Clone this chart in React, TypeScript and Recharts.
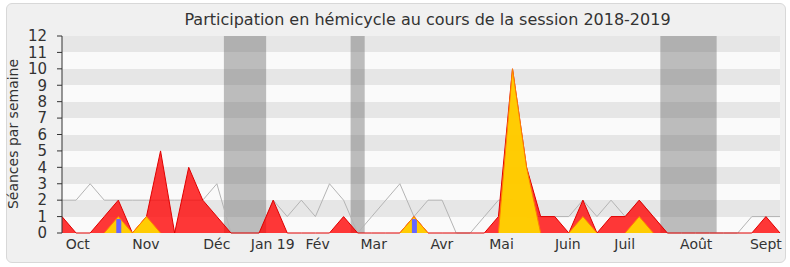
import React from 'react';
import { ComposedChart, Area, Bar, Line, XAxis, YAxis, CartesianGrid, ReferenceArea } from 'recharts';

// one point per week, session 2018-2019
const weekIndex = [
  0, 1, 2, 3, 4, 5, 6, 7, 8, 9, 10, 11, 12, 13, 14, 15, 16, 17, 18, 19, 20, 21, 22, 23, 24, 25,
  26, 27, 28, 29, 30, 31, 32, 33, 34, 35, 36, 37, 38, 39, 40, 41, 42, 43, 44, 45, 46, 47, 48, 49, 50, 51,
];
const totalSeances = [
  2, 2, 3, 2, 2, 2, 2, 2, 2, 2, 2, 3, 0, 0, 0, 2, 1, 2, 1, 3, 2, 0, 1, 2, 3, 1,
  2, 2, 0, 0, 1, 2, 2, 1, 1, 1, 1, 2, 1, 2, 1, 2, 1, 0, 0, 0, 0, 0, 0, 1, 1, 1,
];
const presences = [
  1, 0, 0, 1, 2, 0, 1, 5, 0, 4, 2, 1, 0, 0, 0, 2, 0, 0, 0, 0, 1, 0, 0, 0, 0, 1,
  0, 0, 0, 0, 0, 1, 10, 4, 1, 1, 0, 2, 0, 1, 1, 2, 1, 0, 0, 0, 0, 0, 0, 0, 1, 0,
];
const interventions = [
  0, 0, 0, 0, 1, 0, 1, 0, 0, 0, 0, 0, 0, 0, 0, 0, 0, 0, 0, 0, 0, 0, 0, 0, 0, 1,
  0, 0, 0, 0, 0, 0, 10, 4, 0, 0, 0, 1, 0, 0, 0, 1, 0, 0, 0, 0, 0, 0, 0, 0, 0, 0,
];
const questions = [
  null, null, null, null, 0.85, null, null, null, null, null, null, null, null, null, null, null, null, null, null, null, null, null, null, null, null, 0.85,
  null, null, null, null, null, null, null, null, null, null, null, null, null, null, null, null, null, null, null, null, null, null, null, null, null, null,
];

const monthPositions = [1.12, 5.96, 11.0, 14.97, 18.16, 22.14, 26.98, 31.22, 35.93, 39.97, 45.05, 50.0];
const monthLabels = ['Oct', 'Nov', 'Déc', 'Jan 19', 'Fév', 'Mar', 'Avr', 'Mai', 'Juin', 'Juil', 'Août', 'Sept'];

const vacances = [
  [11.5, 14.5],
  [20.5, 21.5],
  [42.5, 46.5],
];

const yTicks = [0, 1, 2, 3, 4, 5, 6, 7, 8, 9, 10, 11, 12];

// outline of the yellow area only around non-zero weeks (keeps the baseline red)
const interventionsOutline = interventions.map((v, i) =>
  v > 0 || interventions[i - 1] > 0 || interventions[i + 1] > 0 ? v : null,
);

const data = weekIndex.map((w, i) => ({
  week: w,
  total: totalSeances[i],
  presence: presences[i],
  intervention: interventions[i],
  interventionEdge: interventionsOutline[i],
  question: questions[i],
}));

const FONT = 'DejaVu Sans';

export default function App() {
  return (
    <div style={{ position: 'absolute', left: 0, top: 0, width: 790, height: 267, background: '#fff', fontFamily: FONT }}>
      <div
        style={{
          position: 'absolute',
          left: 6,
          top: 3,
          width: 778,
          height: 258,
          border: '1px solid #d8d8d8',
          borderRadius: 6,
          background: '#f0f0f0',
        }}
      />
      <div
        style={{
          position: 'absolute',
          left: 0,
          top: 10,
          width: 855,
          textAlign: 'center',
          fontSize: 16,
          color: '#333',
          whiteSpace: 'nowrap',
        }}
      >
        Participation en hémicycle au cours de la session 2018-2019
      </div>
      <div
        style={{
          position: 'absolute',
          left: 12.5,
          top: 134,
          transform: 'translate(-50%, -50%) rotate(-90deg)',
          fontSize: 14,
          color: '#333',
          whiteSpace: 'nowrap',
        }}
      >
        Séances par semaine
      </div>
      <ComposedChart
        style={{ position: 'absolute', left: 0, top: 0 }}
        width={790}
        height={267}
        data={data}
        margin={{ top: 36, right: 10, bottom: 0, left: 0 }}
      >
        <CartesianGrid vertical={false} stroke="none" fill="none" horizontalFill={['#e6e6e6', '#fafafa']} />
        {vacances.map(([a, b], i) => (
          <ReferenceArea key={i} x1={a} x2={b} y1={0} y2={12} fill="#666666" fillOpacity={0.42} stroke="none" />
        ))}
        <XAxis
          dataKey="week"
          type="number"
          domain={[0, 51]}
          ticks={weekIndex}
          interval={0}
          height={0}
          tick={false}
          tickSize={5}
          stroke="#333"
        />
        <XAxis
          xAxisId="labels"
          type="number"
          domain={[0, 51]}
          ticks={monthPositions}
          interval={0}
          height={34}
          axisLine={false}
          tickLine={false}
          tickSize={0}
          tickMargin={6}
          tickFormatter={(v) => monthLabels[monthPositions.indexOf(v)]}
          tick={{ fill: '#333', fontSize: 14, fontFamily: FONT }}
        />
        <XAxis
          xAxisId="top"
          orientation="top"
          type="number"
          domain={[0, 51]}
          ticks={weekIndex}
          interval={0}
          height={0}
          axisLine={false}
          tick={false}
          tickSize={1}
          stroke="#333"
        />
        <YAxis
          domain={[0, 12]}
          ticks={yTicks}
          interval={0}
          width={62}
          tickSize={5}
          tickMargin={10}
          stroke="#333"
          tick={{ fill: '#333', fontSize: 15, fontFamily: FONT }}
        />
        <YAxis
          yAxisId="right"
          orientation="right"
          domain={[0, 12]}
          width={0}
          tick={false}
          tickLine={false}
          axisLine={{ stroke: '#cccccc' }}
        />
        <Area
          type="linear"
          dataKey="total"
          stroke="#b4b4b4"
          strokeWidth={1}
          fill="none"
          fillOpacity={0}
          dot={false}
          isAnimationActive={false}
        />
        <Area
          type="linear"
          dataKey="presence"
          stroke="#e00000"
          strokeWidth={1}
          fill="#ff0000"
          fillOpacity={0.78}
          dot={false}
          isAnimationActive={false}
        />
        <Area
          type="linear"
          dataKey="intervention"
          stroke="none"
          fill="#ffd400"
          fillOpacity={0.95}
          dot={false}
          isAnimationActive={false}
        />
        <Line
          type="linear"
          dataKey="interventionEdge"
          stroke="#ff8000"
          strokeWidth={1}
          dot={false}
          connectNulls={false}
          isAnimationActive={false}
        />
        <Bar dataKey="question" fill="#6666ff" barSize={5} isAnimationActive={false} />
      </ComposedChart>
    </div>
  );
}
